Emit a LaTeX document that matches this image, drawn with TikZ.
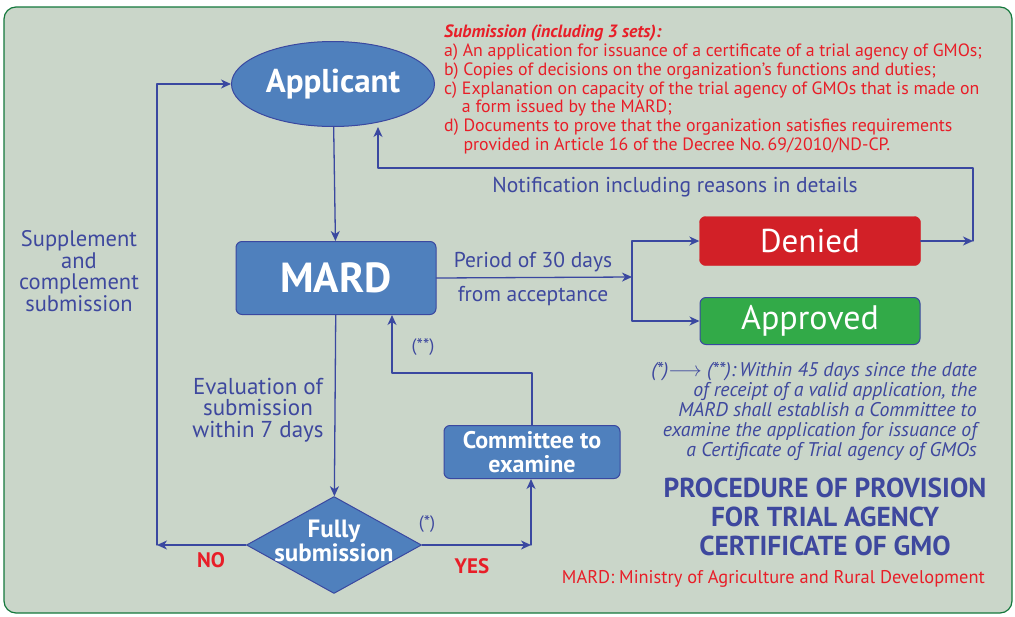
\documentclass[tikz,border=0pt]{standalone}
\usepackage{fontspec}
\setmainfont{PT Sans}
\usepackage[dvipsnames]{xcolor}
\usepackage{tikz}
\usetikzlibrary{arrows.meta}
\usetikzlibrary{positioning}
\usetikzlibrary{shapes.geometric}
\definecolor{panelbg}{RGB}{202,214,201}
\definecolor{panelrim}{RGB}{20,120,60}
\definecolor{boxblue}{RGB}{79,128,189}
\definecolor{rimblue}{RGB}{58,72,160}
\definecolor{inkblue}{RGB}{62,72,158}
\definecolor{inkred}{RGB}{232,30,40}
\definecolor{deniedred}{RGB}{210,32,39}
\definecolor{approvedgreen}{RGB}{50,170,72}

\begin{document}
\begin{tikzpicture}[line cap=round,line join=round, x=1pt,y=-1pt,
  flow/.style={draw=rimblue, line width=1.3pt, -{Stealth[length=10pt, width=9pt, inset=3pt]}},
  bluebox/.style={draw=rimblue, fill=boxblue, line width=1pt, rounded corners=6, inner sep=0, text=white},
  bluetext/.style={text=inkblue, align=center, inner sep=0},
  redtext/.style={text=inkred, inner sep=0}]
\useasboundingbox (0,0) rectangle (1015,616);
\draw [panelrim, fill=panelbg, line width=1.2pt, rounded corners=12pt] (4,7) rectangle (1012,613);
% boxes
\node [ellipse, draw=rimblue, fill=boxblue, line width=1pt, minimum width=203, minimum height=85, inner sep=0, text=white, font=\fontsize{33}{34}\selectfont\bfseries] (applicant) at (333,84) {Applicant};
\node [bluebox, minimum width=200, minimum height=73, font=\fontsize{42}{44}\selectfont\bfseries] (mard) at (336,278) {MARD};
\node [bluebox, minimum width=176, minimum height=53, align=center, font=\fontsize{24}{24}\selectfont\bfseries] (committee) at (532,452) {Committee to\\examine};
\node [diamond, draw=rimblue, fill=boxblue, line width=1pt, minimum width=175, minimum height=97, inner sep=0,
  label={[text=white, align=center, yshift=4pt, font=\fontsize{25}{24}\selectfont\bfseries]center:Fully\\submission}] (fully) at (334,545) {};
\node [draw=deniedred, fill=deniedred, rounded corners=6, minimum width=221, minimum height=49, text=white, font=\fontsize{33}{34}\selectfont] (denied) at (810,241) {Denied};
\node [draw=rimblue, line width=1pt, fill=approvedgreen, rounded corners=6, minimum width=220, minimum height=47, text=white, font=\fontsize{34}{34}\selectfont] (approved) at (810,321) {Approved};
% corners of the connectors
\coordinate (nojoin) at (157,545);
\coordinate (yesjoin) at (531,545);
\coordinate (back) at (392,373);
\coordinate (split) at (632,277);
\coordinate (notice) at (973,238);
\coordinate (notetop) at (378,168);
% connectors
\draw [flow] (applicant) -- (mard);
\draw [flow] (mard) -- (fully);
\draw [flow] (fully.west) -- (nojoin);
\draw [flow] (nojoin) |- (applicant.west);
\draw [flow] (fully.east) -- (yesjoin);
\draw [flow] (yesjoin) -- (yesjoin |- committee.south);
\draw [flow] (committee.north) |- (back) -- (back |- mard.south);
\draw [flow] (mard.east) -- (split);
\draw [flow] (split) |- (denied.west);
\draw [flow] (split) |- (approved.west);
\draw [flow] (denied.east) -- (notice |- denied.east);
\draw [flow] (notice |- denied.east) |- (notetop) -- (notetop |- applicant.south);
% labels
\node [bluetext, font=\fontsize{22.5}{21.5}\selectfont] (supplement) at (79,271) {Supplement\\and\\complement\\submission};
\node [bluetext, font=\fontsize{23}{21.5}\selectfont] (evaluation) at (258,410) {Evaluation of\\submission\\within 7 days};
\node [bluetext, font=\fontsize{21.5}{22}\selectfont] (period) at (533,262) {Period of 30 days};
\node [bluetext, font=\fontsize{21.5}{22}\selectfont] (acceptance) at (533,296) {from acceptance};
\node [bluetext, font=\fontsize{21.5}{22}\selectfont] (notification) at (675,187) {Notification including reasons in details};
\node [bluetext, font=\fontsize{18}{20}\selectfont] (onestar) at (427,524) {(*)};
\node [bluetext, font=\fontsize{18}{20}\selectfont] (twostar) at (423,347) {(**)};
\node [redtext, font=\fontsize{21}{22}\selectfont\bfseries] (no) at (211,560) {NO};
\node [redtext, font=\fontsize{21}{22}\selectfont\bfseries] (yes) at (472,566) {YES};
% submission list
\node [redtext, anchor=north west, align=left, font=\fontsize{17.8}{18.7}\selectfont] (sets) at (444,25) {%
  \textbf{\itshape Submission (including 3 sets):}\\
  a)~An application for issuance of a certificate of a trial agency of GMOs;\\
  b)~Copies of decisions on the organization’s functions and duties;\\
  c)~Explanation on capacity of the trial agency of GMOs that is made on\\
  \hphantom{c)~}a form issued by the MARD;\\
  d)~Documents to prove that the organization satisfies requirements\\
  \hphantom{d)~}provided in Article 16 of the Decree No.\,69/2010/ND-CP.};
% note and title
\node [bluetext, anchor=east, align=right, font=\fontsize{19.8}{20}\selectfont\itshape] (note) at (977,412) {%
  (*)\ensuremath{\longrightarrow}\ (**):\,Within 45 days since the date\\
  of receipt of a valid application, the\\
  MARD shall establish a Committee to\\
  examine the application for issuance of\\
  a Certificate of Trial agency of GMOs};
\node [bluetext, font=\fontsize{27.4}{29}\selectfont\bfseries] (title) at (825,517) {PROCEDURE OF PROVISION\\FOR TRIAL AGENCY\\CERTIFICATE OF GMO};
\node [redtext, anchor=east, font=\fontsize{18.4}{20}\selectfont] (mardnote) at (985,579) {MARD: Ministry of Agriculture and Rural Development};
\end{tikzpicture}
\end{document}
